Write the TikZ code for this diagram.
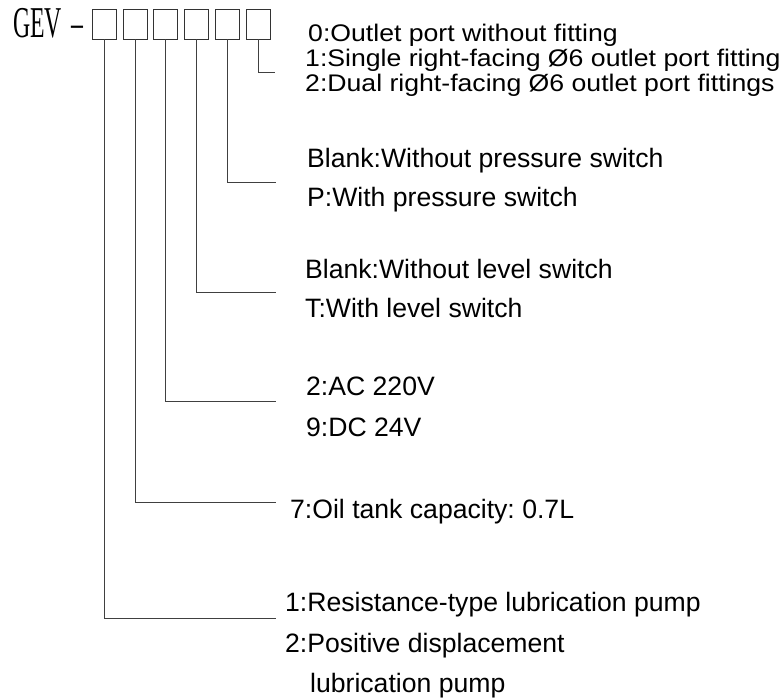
\documentclass[tikz,border=0pt]{standalone}
\usepackage{fontspec}
\setmainfont{Liberation Sans}
\newfontfamily\topfont{Liberation Sans}[FakeStretch=1.11]
\newfontfamily\gevfont{Liberation Serif}[FakeStretch=0.54]
\frenchspacing

\begin{document}
\begin{tikzpicture}[
  x=1pt, y=-1pt,
  codebox/.style={draw=black!80, line width=0.9pt, minimum width=24pt, minimum height=30pt, inner sep=0pt},
  desc/.style={anchor=base west, inner sep=0pt, font=\fontsize{26.6}{30}\selectfont},
  topdesc/.style={anchor=base west, inner sep=0pt, font=\topfont\fontsize{24}{28}\selectfont},
  lead/.style={draw=black!75, line width=0.9pt}
]
  \useasboundingbox (0,0) rectangle (780,700);

  % ==========================================
  % 1. CODIGO DEL MODELO
  % ==========================================
  \node[anchor=base west, inner sep=0pt, font=\gevfont\fontsize{44}{44}\selectfont] (gev) at (13,38) {GEV\kern 9pt\textendash};
  \foreach \i in {1,...,6}
    \node[codebox] (b\i) at ({73.5+30.8*\i},24) {};

  % ==========================================
  % 2. LINEAS GUIA
  % ==========================================
  \coordinate (e6) at (275,72);
  \coordinate (e5) at (276,182);
  \coordinate (e4) at (276,292);
  \coordinate (e3) at (276,401);
  \coordinate (e2) at (276,502);
  \coordinate (e1) at (276,618);
  \foreach \i in {1,...,6}
    \draw[lead] (b\i.south) |- (e\i);

  % ==========================================
  % 3. DESCRIPCIONES
  % ==========================================
  % salida
  \node[topdesc] (out0) at (308,42) {0:Outlet port without fitting};
  \node[topdesc] (out1) at (305,67) {1:Single right-facing Ø6 outlet port fitting};
  \node[topdesc] (out2) at (305,92) {2:Dual right-facing Ø6 outlet port fittings};

  % presion
  \node[desc] (pre0) at (307,168) {Blank:Without pressure switch};
  \node[desc] (pre1) at (307,207) {P:With pressure switch};

  % nivel
  \node[desc] (lev0) at (305,279) {Blank:Without level switch};
  \node[desc] (lev1) at (305,318) {T:With level switch};

  % tension
  \node[desc] (volt2) at (306,396) {2:AC 220V};
  \node[desc] (volt9) at (306,437) {9:DC 24V};

  % deposito
  \node[desc] (tank) at (290,519) {7:Oil tank capacity: 0.7L};

  % tipo de bomba
  \node[desc] (pump1) at (285,612) {1:Resistance-type lubrication pump};
  \node[desc] (pump2) at (285,652) {2:Positive displacement};
  \node[desc] (pump2b) at (310,692) {lubrication pump};

\end{tikzpicture}
\end{document}
